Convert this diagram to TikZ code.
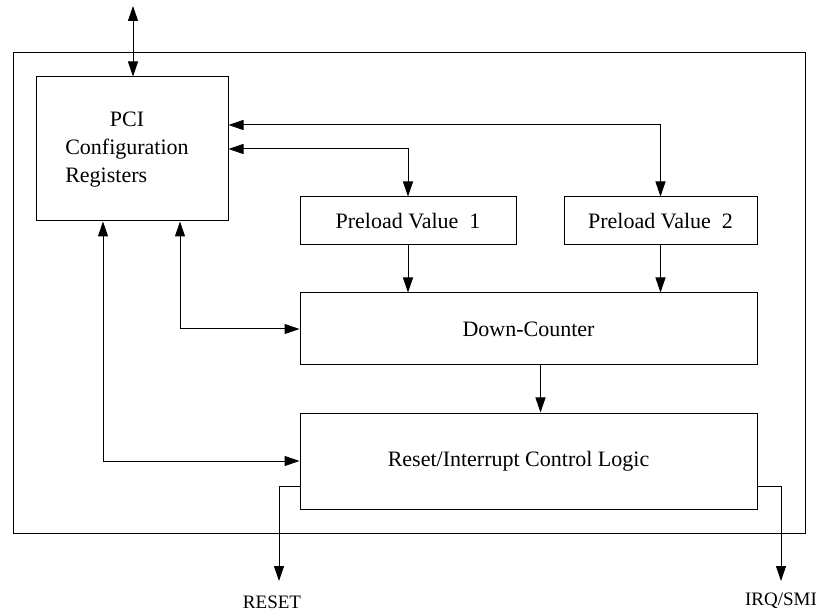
\documentclass[tikz,border=0pt]{standalone}
\usepackage{fontspec}
\setmainfont{Liberation Serif}
\usetikzlibrary{arrows.meta}
\begin{document}
\begin{tikzpicture}[x=1pt,y=-1pt,
  box/.style={draw,line width=1pt,inner sep=0pt,font=\fontsize{22}{28}\selectfont},
  conn/.style={line width=1pt},
  tip/.style={-{Triangle[length=15pt,width=10pt]}},
  dtip/.style={{Triangle[length=15pt,width=10pt]}-{Triangle[length=15pt,width=10pt]}},
  lbl/.style={inner sep=0pt,font=\fontsize{19}{22}\selectfont}]
\useasboundingbox (0,0) rectangle (817,612);
% outer frame
\node[box,minimum width=792pt,minimum height=480pt] (frame) at (409,293) {};
% boxes
\node[box,minimum width=192pt,minimum height=144pt] (pci) at (132,149) {};
\node[inner sep=0pt,font=\fontsize{22}{28}\selectfont] (pcit) at (127,149)
  {\begin{tabular}{@{}l@{}}\multicolumn{1}{@{}c@{}}{PCI}\\Configuration\\Registers\end{tabular}};
\node[box,minimum width=216pt,minimum height=48pt] (p1) at (408,221) {Preload Value\ \ 1};
\node[box,minimum width=193pt,minimum height=48pt] (p2) at (660.5,221) {Preload Value\ \ 2};
\node[box,minimum width=457pt,minimum height=72pt] (dc) at (528.5,329) {Down-Counter};
\node[box,minimum width=457pt,minimum height=96pt] (rl) at (528.5,461) {Reset/Interrupt Control Logic\hspace*{20pt}};
% labels
\node[lbl] (reset) at (272,602) {RESET};
\node[lbl] (irq) at (781,601) {IRQ/SMI};
% helper coordinates
\coordinate (top) at (133,6);
\coordinate (j1) at (660.5,125);
\coordinate (j2) at (408,149);
\coordinate (k1) at (180,0);
\coordinate (k2) at (103,0);
\coordinate (r1) at (279,486);
\coordinate (rtip) at (279,581);
\coordinate (itip) at (781,581);
% connectors
\draw[conn,dtip] (top) -- (top |- pci.north);
\draw[conn,dtip] (pci.east |- j1) -| (p2.north);
\draw[conn,dtip] (pci.east |- j2) -| (p1.north);
\draw[conn,tip] (p1.south) -- (p1.south |- dc.north);
\draw[conn,tip] (p2.south) -- (p2.south |- dc.north);
\draw[conn,tip] ([xshift=12pt]dc.south) -- ([xshift=12pt]rl.north);
\draw[conn,dtip] (pci.south -| k1) |- (dc.west);
\draw[conn,dtip] (pci.south -| k2) |- (rl.west);
\draw[conn,tip] (rl.west |- r1) -| (rtip);
\draw[conn,tip] (rl.east |- r1) -| (itip);
\end{tikzpicture}
\end{document}
